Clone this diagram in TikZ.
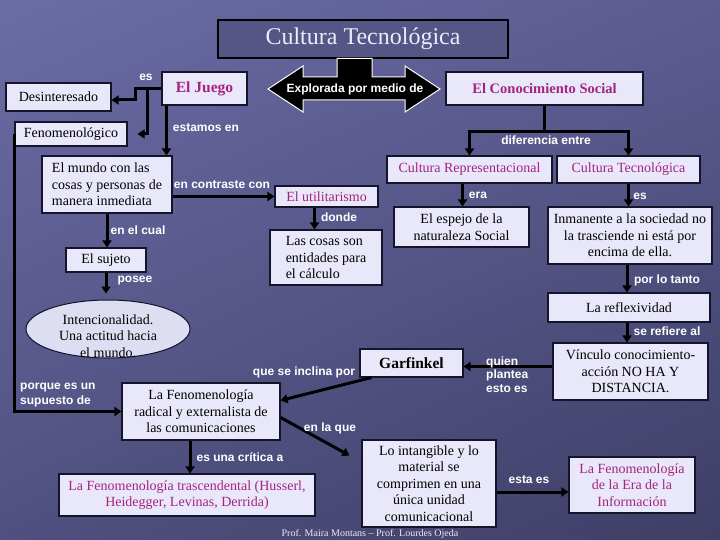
\documentclass[tikz,border=0pt]{standalone}
\usepackage{fontspec}
\setmainfont{Liberation Serif}
\newfontfamily\labfont{Liberation Sans}
\usetikzlibrary{arrows.meta,shapes.geometric,shadings}
\definecolor{bgUL}{RGB}{108,108,166}
\definecolor{bgUR}{RGB}{92,92,146}
\definecolor{bgLL}{RGB}{80,80,128}
\definecolor{bgLR}{RGB}{62,62,102}
\definecolor{boxfill}{RGB}{232,232,250}
\definecolor{boxline}{RGB}{20,20,42}
\definecolor{magc}{RGB}{165,35,125}
\definecolor{titlefill}{RGB}{86,86,134}
\definecolor{titletext}{RGB}{235,235,250}
\definecolor{ellfill}{RGB}{222,222,242}
\definecolor{footc}{RGB}{235,235,245}
\tikzset{
  box/.style={draw=boxline, line width=1.1pt, fill=boxfill, inner sep=2pt, align=center, text=black,
    font=\fontsize{14}{16.5}\selectfont},
  mag/.style={text=magc},
  lbl/.style={text=white, inner sep=0pt, font=\labfont\bfseries\fontsize{12}{14}\selectfont},
  conn/.style={line width=3pt, -{Triangle[length=7pt,width=9pt]}},
  ln/.style={line width=3pt}
}
\begin{document}
\begin{tikzpicture}[x=1pt,y=-1pt]
\useasboundingbox (0,0) rectangle (720,540);
\shade[upper left=bgUL, upper right=bgUR, lower left=bgLL, lower right=bgLR] (0,0) rectangle (720,540);

% title and double arrow
\node[box, minimum width=290pt, minimum height=38pt, fill=titlefill, draw=black, text=titletext,
  font=\fontsize{24}{28}\selectfont] (title) at (363,39) {Cultura Tecnológica};
\draw[fill=black, draw=white, line width=1pt]
  (268,89) -- (303,66) -- (303,77) -- (337,77) -- (337,58.5) -- (372,58.5) -- (372,77) -- (405,77)
  -- (405,66) -- (440,89) -- (405,112) -- (405,100) -- (303,100) -- (303,112) -- cycle;
\node[lbl] (explo) at (355,89) {Explorada por medio de};

% boxes
\node[box, mag, minimum width=85pt, minimum height=33pt, font=\bfseries\fontsize{15.5}{18}\selectfont] (juego) at (204.5,88.5) {El Juego};
\node[box, minimum width=105pt, minimum height=28pt] (desint) at (58.5,97) {Desinteresado};
\node[box, minimum width=112pt, minimum height=24pt] (fenom) at (71,134) {Fenomenológico};
\node[box, mag, minimum width=197pt, minimum height=33pt, font=\bfseries\fontsize{14.5}{17}\selectfont] (conoc) at (544.5,88.5) {El Conocimiento Social};
\node[box, minimum width=130pt, minimum height=57pt, align=left] (mundo) at (107,184.5) {El mundo con las\\cosas y personas de\\manera inmediata};
\node[box, mag, minimum width=103pt, minimum height=21pt] (utilit) at (326.5,196.5) {El utilitarismo};
\node[box, minimum width=112pt, minimum height=55pt, align=left] (lascosas) at (326,257.5) {Las cosas son\\entidades para\\el cálculo};
\node[box, minimum width=80pt, minimum height=24pt] (sujeto) at (106,260) {El sujeto};
\node[ellipse, draw=boxline, fill=ellfill, line width=1pt, minimum width=164pt, minimum height=58pt, inner sep=0pt] (intenc) at (108,329) {};
\node[align=center, inner sep=0pt, font=\fontsize{14}{16.5}\selectfont] (intenctxt) at (108,336) {Intencionalidad.\\Una actitud hacia\\el mundo.};
\node[box, minimum width=158pt, minimum height=57pt] (radical) at (201,411.5) {La Fenomenología\\radical y externalista de\\las comunicaciones};
\node[box, mag, minimum width=256pt, minimum height=42pt] (trasc) at (187,495) {La Fenomenología trascendental (Husserl,\\Heidegger, Levinas, Derrida)};
\node[box, minimum width=103pt, minimum height=28pt, font=\bfseries\fontsize{15.5}{18}\selectfont] (garf) at (411.5,363) {Garfinkel};
\node[box, minimum width=134pt, minimum height=87pt] (intang) at (429,483.5) {Lo intangible y lo\\material se\\comprimen en una\\única unidad\\comunicacional};
\node[box, mag, minimum width=165pt, minimum height=27pt] (repres) at (469.5,169.5) {Cultura Representacional};
\node[box, mag, minimum width=143pt, minimum height=27pt] (tecno) at (628.5,169.5) {Cultura Tecnológica};
\node[box, minimum width=135pt, minimum height=40pt] (espejo) at (461.5,227) {El espejo de la\\naturaleza Social};
\node[box, minimum width=164pt, minimum height=57pt] (inman) at (630,235.5) {Inmanente a la sociedad no\\la trasciende ni está por\\encima de ella.};
\node[box, minimum width=162pt, minimum height=29pt] (reflex) at (629,307.5) {La reflexividad};
\node[box, minimum width=155pt, minimum height=57pt] (vinculo) at (630.5,371.5) {Vínculo conocimiento-\\acción NO HA Y\\DISTANCIA.};
\node[box, mag, minimum width=126pt, minimum height=56pt] (eraInfo) at (632,485) {La Fenomenología\\de la Era de la\\Información};

% connectors
\draw[conn] (juego.west) -| ([yshift=-3pt, xshift=24pt]desint.east) -- ([yshift=-3pt]desint.east);
\draw[conn] ([xshift=-14pt]juego.west) |- ([xshift=10pt]fenom.east);
\draw[conn] ([xshift=5pt]juego.south west) -- ([xshift=5pt]juego.south west |- mundo.north);
\draw[conn] (fenom.west) |- (radical.west);
\draw[conn] (mundo.east |- utilit.west) -- (utilit.west);
\draw[conn] ([xshift=-12pt]utilit.south) -- ([xshift=-12pt]utilit.south |- lascosas.north);
\draw[conn] (mundo.south) -- (mundo.south |- sujeto.north);
\draw[conn, shorten >=6pt] (sujeto.south) -- (sujeto.south |- intenc.north);
\draw[conn] ([xshift=-11pt]radical.south) -- ([xshift=-11pt]radical.south |- trasc.north);
\draw[conn] ([xshift=12pt]garf.south west) -- ([yshift=11pt]radical.east);
\draw[conn] ([yshift=-6pt]radical.east) -- ([xshift=-12pt, yshift=-16pt]intang.north west);
\draw[ln] (conoc.south) -- ++(0,26) coordinate (dj);
\draw[conn] (dj) -| (repres.north);
\draw[conn] (dj) -| (tecno.north);
\draw[conn] ([xshift=-7pt]repres.south) -- ([xshift=-7pt]repres.south |- espejo.north);
\draw[conn] (tecno.south) -- (tecno.south |- inman.north);
\draw[conn] ([xshift=-3pt]inman.south) -- ([xshift=-3pt]inman.south |- reflex.north);
\draw[conn] ([xshift=-2pt]reflex.south) -- ([xshift=-2pt]reflex.south |- vinculo.north);
\draw[conn] ([yshift=5pt]vinculo.west) -- ([yshift=5pt]vinculo.west -| garf.east);
\draw[conn] ([yshift=-8.5pt]intang.east) -- ([yshift=-8.5pt]intang.east -| eraInfo.west);

% labels
\node[lbl] (les) at (146,77) {es};
\node[lbl] (lestamos) at (206,128) {estamos en};
\node[lbl, align=left, anchor=west, font=\labfont\bfseries\fontsize{12}{15}\selectfont] (lporque) at (20,395.5) {porque es un\\supuesto de};
\node[lbl] (lcontraste) at (222,185) {en contraste con};
\node[lbl] (ldonde) at (339,217) {donde};
\node[lbl] (lcual) at (138,230) {en el cual};
\node[lbl] (lposee) at (135,281) {posee};
\node[lbl] (linclina) at (304,372) {que se inclina por};
\node[lbl] (lenlaque) at (330,428) {en la que};
\node[lbl] (lcritica) at (240,457) {es una crítica a};
\node[lbl] (ldif) at (546,140) {diferencia entre};
\node[lbl] (lera) at (478,195) {era};
\node[lbl] (les2) at (640,196) {es};
\node[lbl] (ltanto) at (667,280) {por lo tanto};
\node[lbl] (lrefiere) at (667,331) {se refiere al};
\node[lbl, align=left, anchor=west, font=\labfont\bfseries\fontsize{12}{13.5}\selectfont] (lquien) at (486,374.5) {quien\\plantea\\esto es};
\node[lbl] (lestaes) at (529,480) {esta es};

\node[text=footc, inner sep=0pt, font=\fontsize{10}{12}\selectfont] (foot) at (370,534) {Prof. Maira Montans – Prof. Lourdes Ojeda};
\end{tikzpicture}
\end{document}
